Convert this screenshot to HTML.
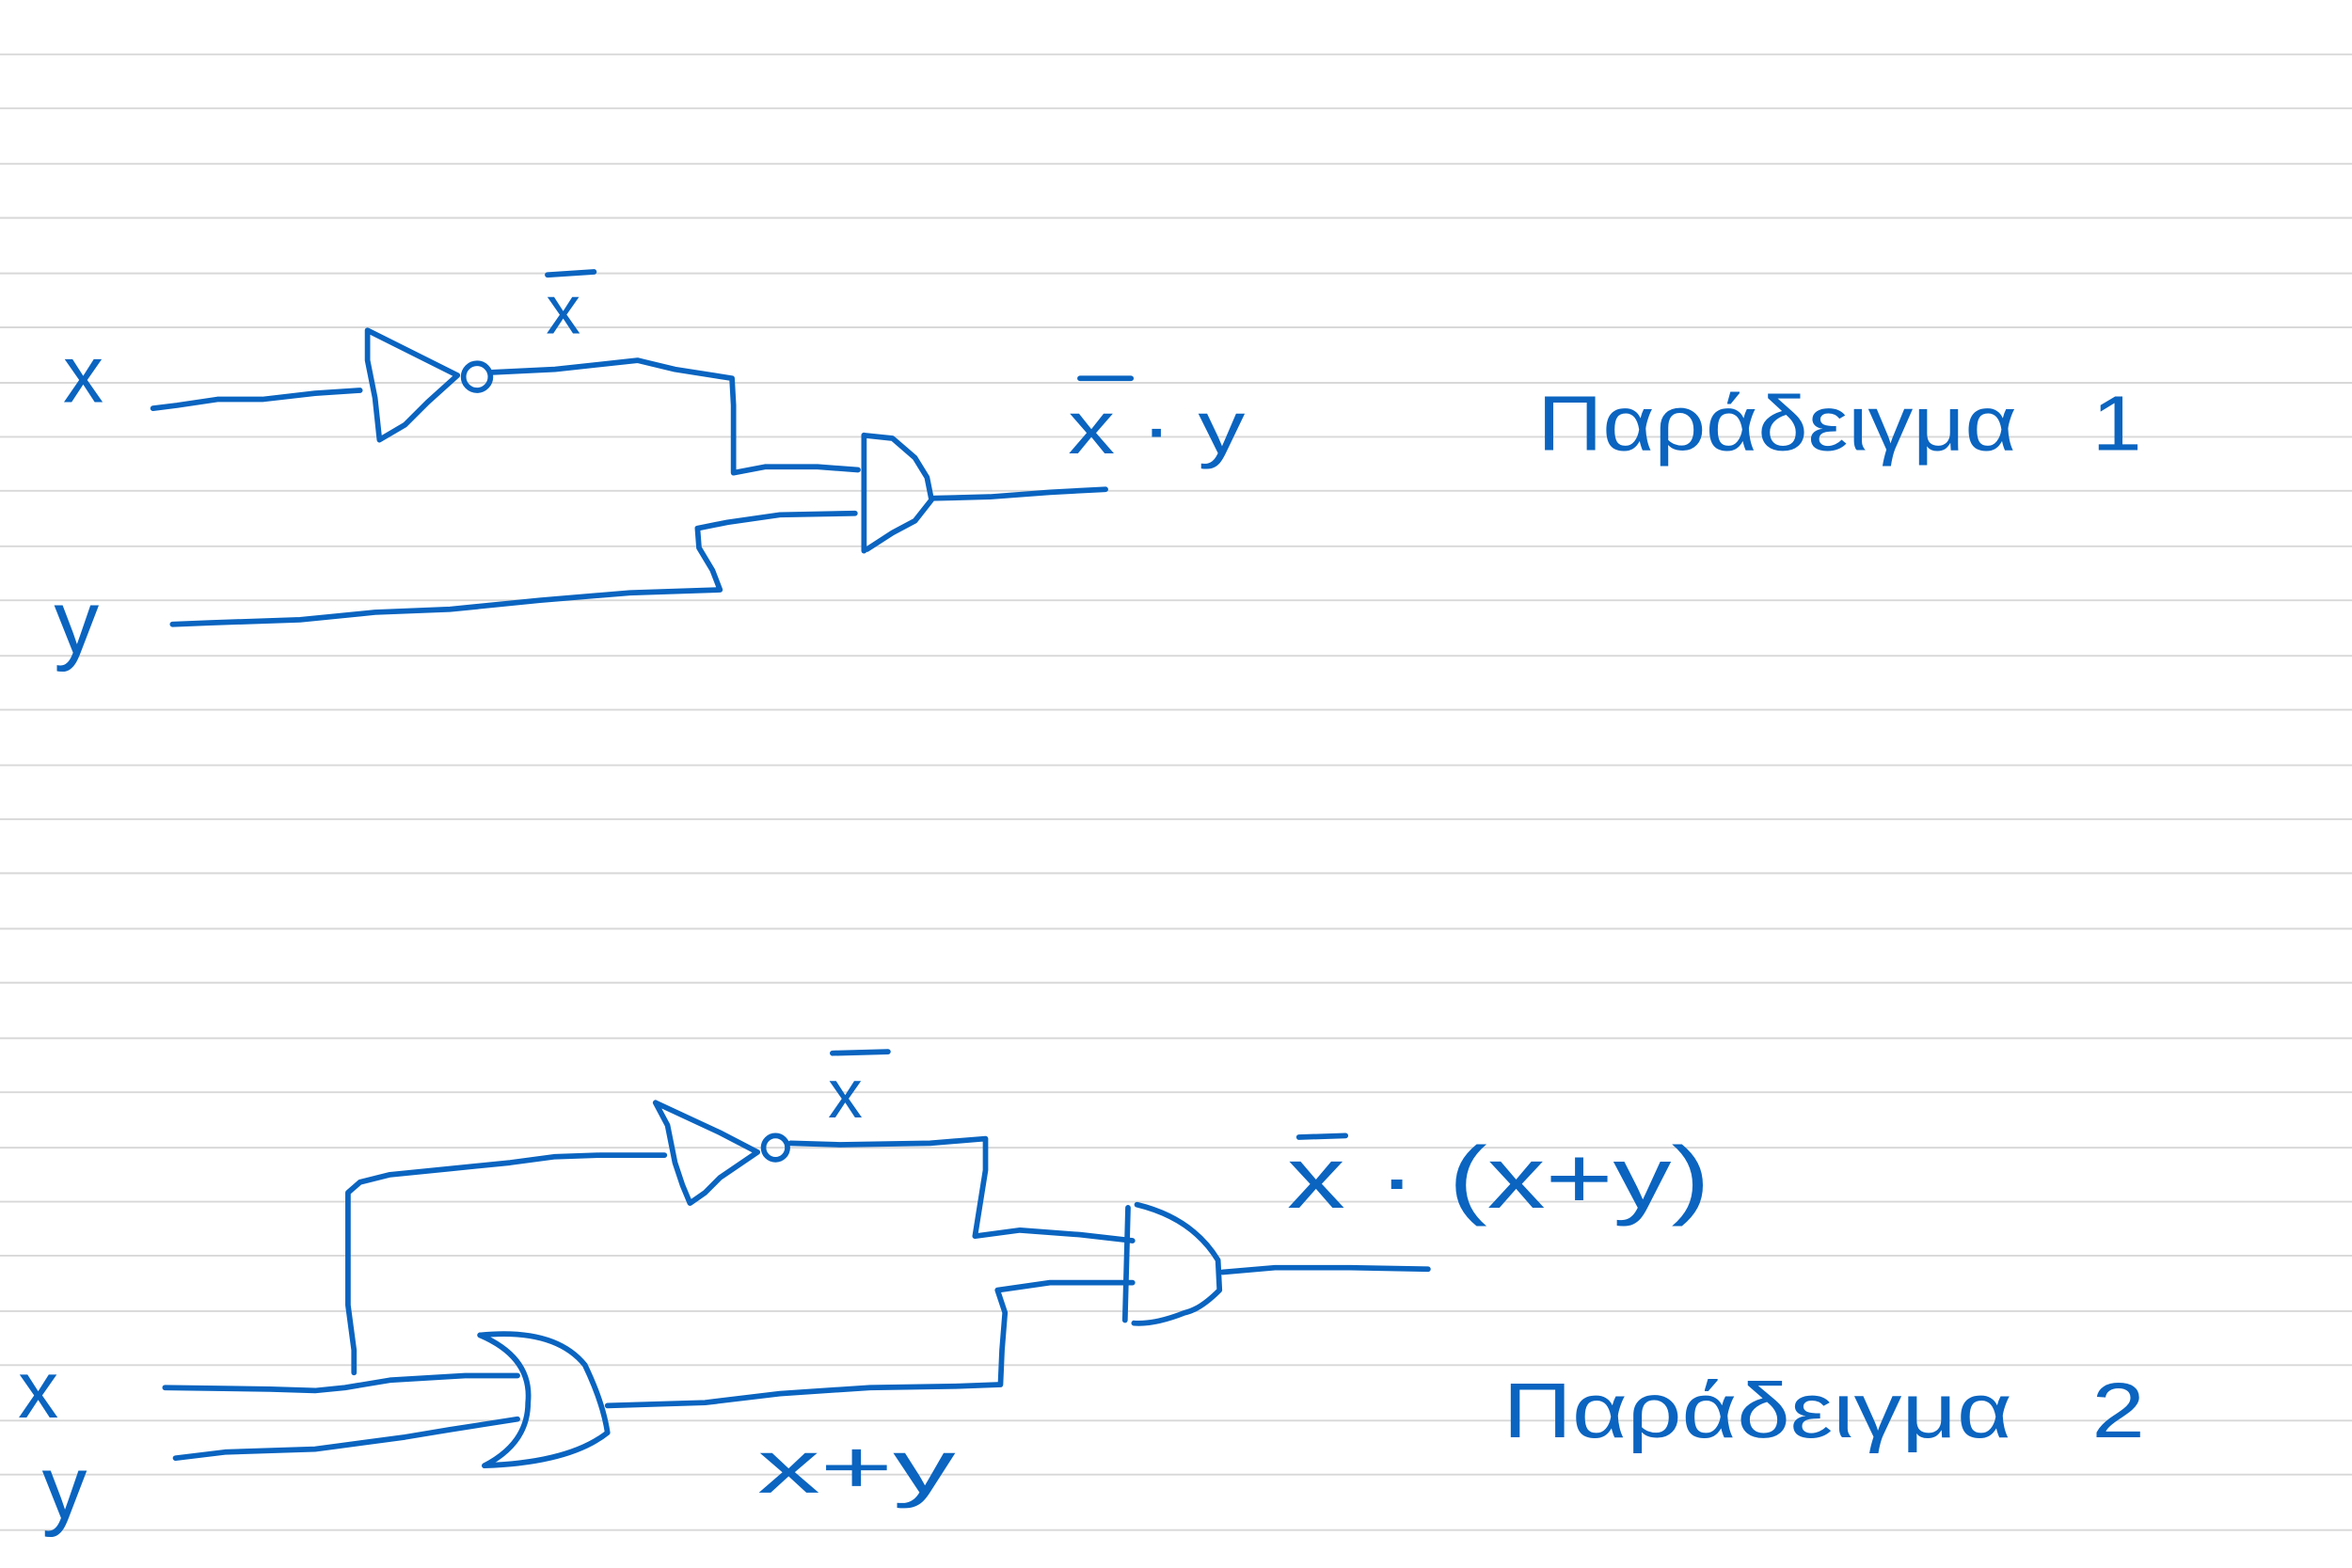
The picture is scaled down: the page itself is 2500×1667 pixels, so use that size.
<!DOCTYPE html>
<html><head><meta charset="utf-8"><style>
html,body{margin:0;padding:0;background:#fff;}
svg{display:block;}
text{font-family:"Liberation Sans","DejaVu Sans",sans-serif;fill:#0a64c0;}
</style></head><body>
<svg width="2500" height="1667" viewBox="0 0 1568 1045" xmlns="http://www.w3.org/2000/svg">
<g stroke="#d8d8d8" stroke-width="1.2">
<line x1="0" x2="1568" y1="36" y2="36"/><line x1="0" x2="1568" y1="72" y2="72"/><line x1="0" x2="1568" y1="109" y2="109"/><line x1="0" x2="1568" y1="145" y2="145"/><line x1="0" x2="1568" y1="182" y2="182"/><line x1="0" x2="1568" y1="218" y2="218"/><line x1="0" x2="1568" y1="255" y2="255"/><line x1="0" x2="1568" y1="291" y2="291"/><line x1="0" x2="1568" y1="327" y2="327"/><line x1="0" x2="1568" y1="364" y2="364"/><line x1="0" x2="1568" y1="400" y2="400"/><line x1="0" x2="1568" y1="437" y2="437"/><line x1="0" x2="1568" y1="473" y2="473"/><line x1="0" x2="1568" y1="510" y2="510"/><line x1="0" x2="1568" y1="546" y2="546"/><line x1="0" x2="1568" y1="582" y2="582"/><line x1="0" x2="1568" y1="619" y2="619"/><line x1="0" x2="1568" y1="655" y2="655"/><line x1="0" x2="1568" y1="692" y2="692"/><line x1="0" x2="1568" y1="728" y2="728"/><line x1="0" x2="1568" y1="765" y2="765"/><line x1="0" x2="1568" y1="801" y2="801"/><line x1="0" x2="1568" y1="837" y2="837"/><line x1="0" x2="1568" y1="874" y2="874"/><line x1="0" x2="1568" y1="910" y2="910"/><line x1="0" x2="1568" y1="947" y2="947"/><line x1="0" x2="1568" y1="983" y2="983"/><line x1="0" x2="1568" y1="1020" y2="1020"/>
</g>
<g fill="none" stroke="#0a64c0" stroke-width="3.6" stroke-linecap="round" stroke-linejoin="round">
<polyline points="102,272 118,270 145,266 175,266 210,262 240,260"/>
<polyline points="245,220 245,240 250,265 253,293 270,283 285,268 305,250 245,220"/>
<circle cx="318" cy="251" r="9"/>
<polyline points="328,248 370,246 425,240 450,246 488,252 489,270 489,315 510,311 545,311 572,313"/>
<polyline points="576,290 576,367"/>
<polyline points="576,290 595,292 610,305 618,318 621,333 610,347 595,355 578,366"/>
<polyline points="621,332 660,331 700,328 737,326"/>
<polyline points="115,416 140,415 200,413 250,408 300,406 360,400 420,395 480,393 475,380 466,365 465,352 485,348 520,343 570,342"/>
<line x1="365" y1="183" x2="396" y2="181"/>
<line x1="720" y1="252" x2="754" y2="252"/>
<polyline points="437,735 445,750 450,775 455,790 460,802 470,795 480,785 505,768 480,755 437,735"/>
<circle cx="517" cy="765" r="8"/>
<polyline points="443,770 400,770 370,771 340,775 300,779 260,783 240,788 232,795 232,830 232,870 236,900 236,915"/>
<polyline points="110,925 180,926 210,927 230,925 260,920 310,917 345,917"/>
<polyline points="117,972 150,968 210,966 270,958 300,953 345,946"/>
<path d="M320,890 Q355,905 352,935 Q352,962 323,977"/>
<path d="M320,890 Q370,885 390,910 Q402,935 405,955 Q380,975 323,977"/>
<polyline points="405,937 470,935 520,929 580,925 640,924 667,923 668,900 670,875 665,860 700,855 755,855"/>
<polyline points="527,762 560,763 620,762 657,759 657,780 650,824 680,820 720,823 755,827"/>
<polyline points="752,805 750,880"/>
<path d="M758,803 Q795,812 812,840 L813,860 Q800,873 790,875 Q770,883 756,882"/>
<polyline points="815,848 850,845 900,845 952,846"/>
<line x1="555" y1="702" x2="592" y2="701"/>
<line x1="866" y1="758" x2="897" y2="757"/>
</g>
<g>
<text x="42" y="268" font-size="54">x</text>
<text x="36" y="435" font-size="60">y</text>
<text x="364" y="222" font-size="46">x</text>
<text x="712" y="302" font-size="50" textLength="118" lengthAdjust="spacingAndGlyphs">x · y</text>
<text x="1025" y="300" font-size="52" textLength="403" lengthAdjust="spacingAndGlyphs">Παράδειγμα&#160;&#160;&#160;1</text>
<text x="552" y="745" font-size="46">x</text>
<text x="858" y="805" font-size="58" textLength="282" lengthAdjust="spacingAndGlyphs">x · (x+y)</text>
<text x="505" y="995" font-size="50" textLength="132" lengthAdjust="spacingAndGlyphs">x+y</text>
<text x="12" y="945" font-size="54">x</text>
<text x="28" y="1012" font-size="60">y</text>
<text x="1002" y="958" font-size="52" textLength="428" lengthAdjust="spacingAndGlyphs">Παράδειγμα&#160;&#160;&#160;2</text>
</g>
</svg>
</body></html>
